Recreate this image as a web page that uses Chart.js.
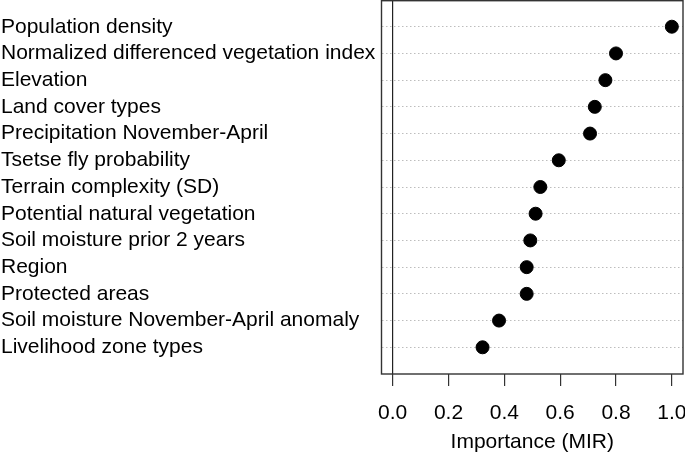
<!DOCTYPE html>
<html>
<head>
<meta charset="utf-8">
<script src="https://cdn.jsdelivr.net/npm/chart.js@4"></script>
<style>
  html, body { margin: 0; padding: 0; background: #fff; }
  #wrap { width: 685px; height: 453px; }
</style>
</head>
<body>
<div id="wrap"><canvas id="chart"></canvas></div>
<script>
const variables = [
    'Population density',
    'Normalized differenced vegetation index',
    'Elevation',
    'Land cover types',
    'Precipitation November-April',
    'Tsetse fly probability',
    'Terrain complexity (SD)',
    'Potential natural vegetation',
    'Soil moisture prior 2 years',
    'Region',
    'Protected areas',
    'Soil moisture November-April anomaly',
    'Livelihood zone types'
];
const importance = [1.0, 0.80, 0.762, 0.724, 0.707, 0.595, 0.529, 0.512, 0.493, 0.480, 0.480, 0.381, 0.322];
const xTicks = [0.0, 0.2, 0.4, 0.6, 0.8, 1.0];
const rowTicks = variables.map((_, i) => i + 1);

const font = { family: 'Liberation Sans, Arial, sans-serif', size: 21 };

// box round the plot area, like R's dotchart
const boxPlugin = {
    id: 'box',
    afterDraw: (chart) => {
        const { ctx, chartArea: a } = chart;
        ctx.save();
        ctx.strokeStyle = '#333';
        ctx.lineWidth = 1.4;
        ctx.strokeRect(a.left, a.top + 0.7, a.right - a.left, a.bottom - a.top - 0.7);
        ctx.restore();
    }
};

new Chart(document.getElementById('chart').getContext('2d'), {
    type: 'scatter',
    data: {
        datasets: [{
            data: importance.map((v, i) => ({ x: v, y: i + 1 })),
            backgroundColor: '#000',
            borderColor: '#000',
            pointRadius: 6.5,
            pointHoverRadius: 6.5
        }]
    },
    options: {
        responsive: true,
        maintainAspectRatio: false,
        animation: false,
        layout: { autoPadding: false, padding: { left: 1, top: 0, right: 2, bottom: 0 } },
        plugins: {
            legend: { display: false },
            tooltip: { enabled: false }
        },
        scales: {
            x: {
                type: 'linear',
                min: -0.04,
                max: 1.04,
                afterBuildTicks: (scale) => { scale.ticks = xTicks.map(v => ({ value: v })); },
                afterFit: (scale) => {
                    scale.height = 79;
                    scale.paddingLeft = 0;
                    scale.paddingRight = 0;
                },
                grid: {
                    drawOnChartArea: true,
                    color: (c) => (c.tick && c.tick.value === 0 ? '#222' : 'rgba(0,0,0,0)'),
                    tickColor: '#333',
                    tickLength: 12,
                    lineWidth: 1.2
                },
                border: { display: false },
                ticks: {
                    color: '#000',
                    font: font,
                    padding: 15,
                    maxRotation: 0,
                    callback: (v) => Number(v).toFixed(1)
                },
                title: {
                    display: true,
                    text: 'Importance (MIR)',
                    color: '#000',
                    font: font,
                    padding: { top: 0, bottom: -2 }
                }
            },
            y: {
                type: 'linear',
                min: 0,
                max: 14,
                reverse: true,
                afterBuildTicks: (scale) => { scale.ticks = rowTicks.map(v => ({ value: v })); },
                afterFit: (scale) => {
                    scale.width = 380.5;
                    scale.paddingTop = 0;
                    scale.paddingBottom = 0;
                },
                grid: {
                    color: '#bdbdbd',
                    lineWidth: 1,
                    drawTicks: false
                },
                border: { display: false, dash: [1.5, 2.5] },
                ticks: {
                    color: '#000',
                    font: font,
                    crossAlign: 'far',
                    callback: (v) => variables[v - 1] || ''
                }
            }
        }
    },
    plugins: [boxPlugin]
});
</script>
</body>
</html>
